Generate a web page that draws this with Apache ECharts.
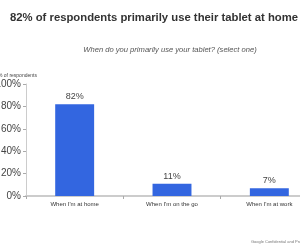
<!DOCTYPE html>
<html>
<head>
<meta charset="utf-8">
<script src="https://cdn.jsdelivr.net/npm/echarts@6/dist/echarts.min.js"></script>
<style>
html, body {margin: 0; padding: 0; background: #fff;}
#chart {width: 300px; height: 250px;}
</style>
</head>
<body>
<div id="chart"></div>
<script>
var categories = ['When I\'m at home', 'When I\'m on the go', 'When I\'m at work'];
var values = [82, 11, 7];
var y_ticks = [0, 20, 40, 60, 80, 100];

var chart = echarts.init(document.getElementById('chart'));
chart.setOption({
    animation: false,
    textStyle: {fontFamily: 'Liberation Sans'},
    title: [
        {text: '82% of respondents primarily use their tablet at home', left: 154, top: 12, padding: 0, textAlign: 'center',
         textStyle: {fontSize: 11.3, fontWeight: 'bold', color: '#333'}},
        {text: 'When do you primarily use your tablet? (select one)', left: 170, top: 46, padding: 0, textAlign: 'center',
         textStyle: {fontSize: 7.6, fontStyle: 'italic', fontWeight: 'normal', color: '#555'}},
        {text: '% of respondents', left: -2, top: 73, padding: 0,
         textStyle: {fontSize: 5, fontWeight: 'normal', color: '#444'}},
        {text: 'Google Confidential and Proprietary', left: 251, top: 240, padding: 0,
         textStyle: {fontSize: 4, fontWeight: 'normal', color: '#777'}}
    ],
    grid: {left: 26, right: -18, top: 84, bottom: 54, containLabel: false, outerBoundsMode: 'none'},
    xAxis: {
        type: 'category',
        data: categories,
        axisLine: {lineStyle: {color: '#ccc', width: 2}},
        axisTick: {show: true, length: 3, lineStyle: {color: '#aaa'}},
        axisLabel: {fontSize: 6, color: '#333', margin: 5}
    },
    yAxis: {
        type: 'value',
        min: y_ticks[0],
        max: y_ticks[y_ticks.length - 1],
        interval: 20,
        splitLine: {show: false},
        axisLine: {show: true, lineStyle: {color: '#ccc'}},
        axisTick: {show: true, length: 3, lineStyle: {color: '#aaa'}},
        axisLabel: {fontSize: 10, color: '#444', margin: 5, formatter: '{value}%'}
    },
    series: [{
        type: 'bar',
        data: values,
        barWidth: '40%',
        itemStyle: {color: '#3366e0'},
        label: {show: true, position: 'top', fontSize: 9, color: '#444', formatter: '{c}%', distance: 3}
    }]
});
</script>
</body>
</html>
